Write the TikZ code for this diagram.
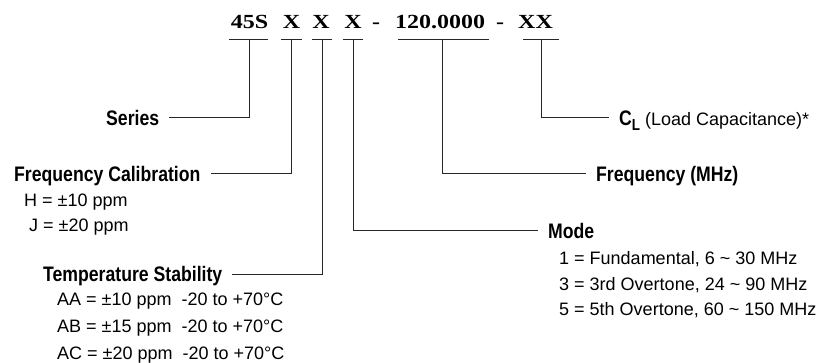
\documentclass[tikz,border=0pt]{standalone}
\usepackage{fontspec}
\setmainfont{Liberation Sans}
\newfontfamily\hdrfont{Liberation Serif}[FakeStretch=1.2]
\newfontfamily\ttlfont{Liberation Sans}[FakeStretch=0.84]
\begin{document}
\begin{tikzpicture}[x=1pt,y=-1pt,
  hdr/.style={font=\hdrfont\bfseries\fontsize{20}{20}\selectfont, inner sep=0pt, anchor=base},
  ttl/.style={font=\ttlfont\bfseries\fontsize{21}{21}\selectfont, text height=15pt, text depth=0pt, inner ysep=0pt, inner xsep=10pt, anchor=base west},
  txt/.style={font=\fontsize{18}{18}\selectfont, inner sep=0pt, anchor=base west},
  ln/.style={line width=1pt, draw=black!85}]
\useasboundingbox (0,0) rectangle (834,362);

% header code
\node[hdr] (s45) at (249.5,28) {45S};
\node[hdr] (x1) at (291.5,28) {X};
\node[hdr] (x2) at (321,28) {X};
\node[hdr] (x3) at (353,28) {X};
\node[hdr] (d1) at (376,28) {-};
\node[hdr] (fr) at (440,28) {120.0000};
\node[hdr] (d2) at (500,28) {-};
\node[hdr] (xx) at (535.5,28) {XX};

% underlines
\coordinate (u1a) at (229,39.3); \coordinate (u1b) at (268,39.3); \coordinate (u1) at (249,39.3);
\coordinate (u2a) at (281,39.3); \coordinate (u2b) at (302,39.3); \coordinate (u2) at (291,39.3);
\coordinate (u3a) at (312,39.3); \coordinate (u3b) at (332,39.3); \coordinate (u3) at (322,39.3);
\coordinate (u4a) at (343,39.3); \coordinate (u4b) at (363,39.3); \coordinate (u4) at (353,39.3);
\coordinate (u5a) at (398,39.3); \coordinate (u5b) at (489,39.3); \coordinate (u5) at (442.5,39.3);
\coordinate (u6a) at (523,39.3); \coordinate (u6b) at (559,39.3); \coordinate (u6) at (541,39.3);
\foreach \i in {1,...,6} {\draw[ln] (u\i a) -- (u\i b);}

% titles
\node[ttl] (series) at (96,125) {Series};
\node[ttl] (fcal) at (4,181) {Frequency Calibration};
\node[ttl] (temp) at (33,281.7) {Temperature Stability};
\node[ttl] (mode) at (538,238) {Mode};
\node[ttl] (fmhz) at (586,181) {Frequency (MHz)};
\node[ttl] (cl) at (609,125) {C\raisebox{-5pt}{\fontsize{16}{16}\selectfont L}\fontspec{Liberation Sans}\mdseries\fontsize{18}{18}\selectfont\ (Load Capacitance)*};

% connectors
\draw[ln] (u1) |- (series.east);
\draw[ln] (u2) |- (fcal.east);
\draw[ln] (u3) |- (temp.east);
\draw[ln] (u4) |- (mode.west);
\draw[ln] (u5) |- (fmhz.west);
\draw[ln] (u6) |- (cl.west);

% option lists
\node[txt] (h) at (24,206.5) {H = ±10 ppm};
\node[txt] (j) at (29,231.5) {J = ±20 ppm};
\node[txt] (aa) at (57,305.5) {AA = ±10 ppm\ \ -20 to +70°C};
\node[txt] (ab) at (57,332.5) {AB = ±15 ppm\ \ -20 to +70°C};
\node[txt] (ac) at (57,359) {AC = ±20 ppm\ \ -20 to +70°C};
\node[txt] (m1) at (559,264) {1 = Fundamental, 6 \textasciitilde{} 30 MHz};
\node[txt] (m3) at (559,290) {3 = 3rd Overtone, 24 \textasciitilde{} 90 MHz};
\node[txt] (m5) at (559,315) {5 = 5th Overtone, 60 \textasciitilde{} 150 MHz};
\end{tikzpicture}
\end{document}
